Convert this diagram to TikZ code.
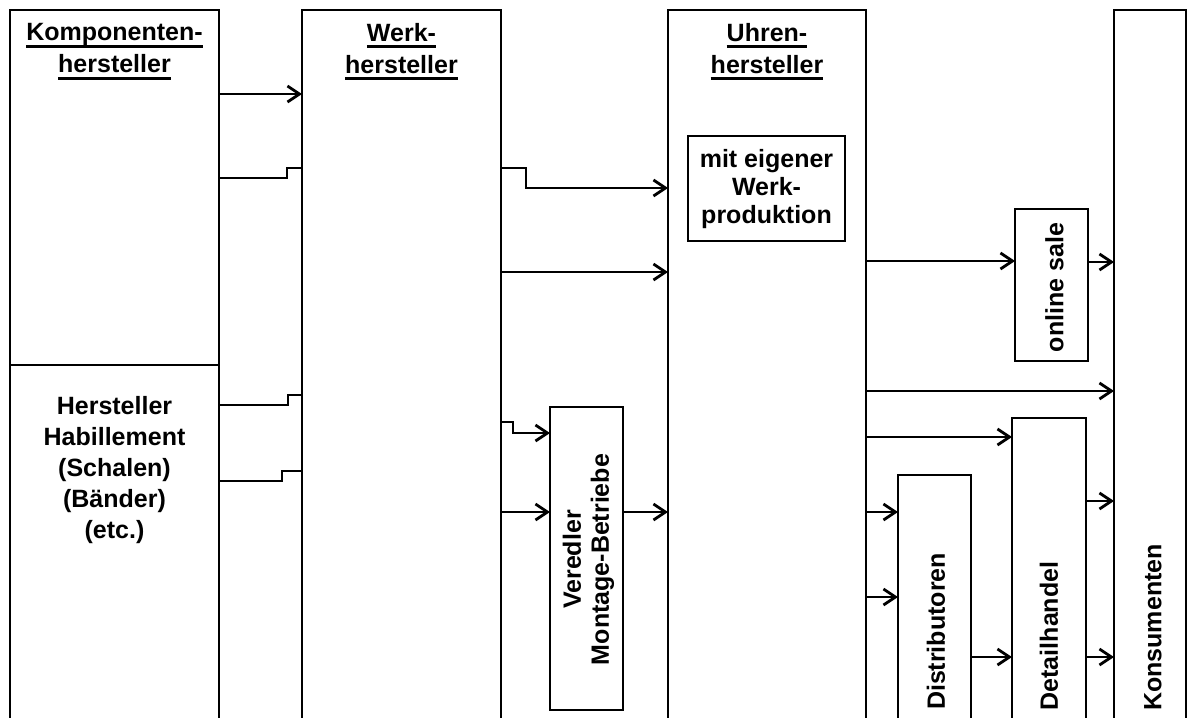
\documentclass[tikz,border=0pt]{standalone}
\usepackage{fontspec}
\setmainfont{Liberation Sans}
\usetikzlibrary{arrows.meta}
\newsavebox\myulbox
\newcommand\myul[1]{\sbox\myulbox{#1}\rlap{\rule[-7pt]{\wd\myulbox}{3pt}}\usebox\myulbox}
\begin{document}
\begin{tikzpicture}[x=1pt,y=-1pt,
  box/.style={draw, line width=2.9pt, rectangle, outer sep=0pt, inner sep=0pt, anchor=north west},
  flow/.style={line width=2.8pt, -{Straight Barb[length=12pt,width=16pt]}},
  link/.style={line width=2.8pt},
  lbl/.style={font=\fontsize{25}{28}\selectfont\bfseries, inner sep=0pt, align=center},
  title/.style={lbl, font=\fontsize{25}{32}\selectfont\bfseries, anchor=north},
  vlbl/.style={lbl, rotate=90}]
\useasboundingbox (0,0) rectangle (1187,718);
\clip (0,0) rectangle (1187,718);
% boxes
\node[box, minimum width=209pt, minimum height=355pt] (komp) at (10,10) {};
\node[box, minimum width=209pt, minimum height=375pt] (habil) at (10,365) {};
\node[box, minimum width=199pt, minimum height=730pt] (werk) at (302,10) {};
\node[box, minimum width=198pt, minimum height=730pt] (uhren) at (668,10) {};
\node[box, minimum width=72pt, minimum height=730pt] (kons) at (1114,10) {};
\node[box, minimum width=157pt, minimum height=105pt] (eigen) at (688,136) {};
\node[box, minimum width=73pt, minimum height=303pt] (vered) at (550,407) {};
\node[box, minimum width=73pt, minimum height=152pt] (online) at (1015,209) {};
\node[box, minimum width=73pt, minimum height=265pt] (distr) at (898,475) {};
\node[box, minimum width=74pt, minimum height=322pt] (detail) at (1012,418) {};
% texts
\node[title] (kompT) at (114.5,23.1) {\myul{Komponenten-}\\\myul{hersteller}};
\node[title] (werkT) at (401.5,23.1) {\myul{Werk-}\\\myul{hersteller}};
\node[title] (uhrenT) at (767,23.1) {\myul{Uhren-}\\\myul{hersteller}};
\node[lbl, anchor=north, font=\fontsize{25}{31}\selectfont\bfseries] (habilT) at (114.5,396.1)
  {Hersteller\\Habillement\\(Schalen)\\(Bänder)\\(etc.)};
\node[lbl, anchor=north] (eigenT) at (766.5,149.1) {mit eigener\\Werk-\\produktion};
\node[vlbl] (onlineT) at (1054.5,287.5) {online sale};
\node[vlbl] (veredT) at (588.5,559.5) {Veredler\\Montage-Betriebe};
\node[vlbl] (distrT) at (936,631.5) {Distributoren};
\node[vlbl] (detailT) at (1049,636) {Detailhandel};
\node[vlbl] (konsT) at (1153,627.5) {Konsumenten};
% connectors
\draw[flow] (komp.east |- 0,94) -- (werk.west |- 0,94);
\draw[link] (komp.east |- 0,178) -- (287,178) -- (287,168) -- (werk.west |- 0,168);
\draw[link] (habil.east |- 0,405) -- (288,405) -- (288,395) -- (werk.west |- 0,395);
\draw[link] (habil.east |- 0,481) -- (282,481) -- (282,471) -- (werk.west |- 0,471);
\draw[flow] (werk.east |- 0,168) -- (526,168) -- (526,188) -- (uhren.west |- 0,188);
\draw[flow] (werk.east |- 0,272) -- (uhren.west |- 0,272);
\draw[flow] (werk.east |- 0,422) -- (513,422) -- (513,433) -- (vered.west |- 0,433);
\draw[flow] (werk.east |- 0,512) -- (vered.west |- 0,512);
\draw[flow] (vered.east |- 0,512) -- (uhren.west |- 0,512);
\draw[flow] (uhren.east |- 0,261) -- (online.west |- 0,261);
\draw[flow] (online.east |- 0,262) -- (kons.west |- 0,262);
\draw[flow] (uhren.east |- 0,391) -- (kons.west |- 0,391);
\draw[flow] (uhren.east |- 0,437) -- (detail.west |- 0,437);
\draw[flow] (uhren.east |- 0,512) -- (distr.west |- 0,512);
\draw[flow] (uhren.east |- 0,597) -- (distr.west |- 0,597);
\draw[flow] (distr.east |- 0,657) -- (detail.west |- 0,657);
\draw[flow] (detail.east |- 0,501) -- (kons.west |- 0,501);
\draw[flow] (detail.east |- 0,657) -- (kons.west |- 0,657);
\end{tikzpicture}
\end{document}
